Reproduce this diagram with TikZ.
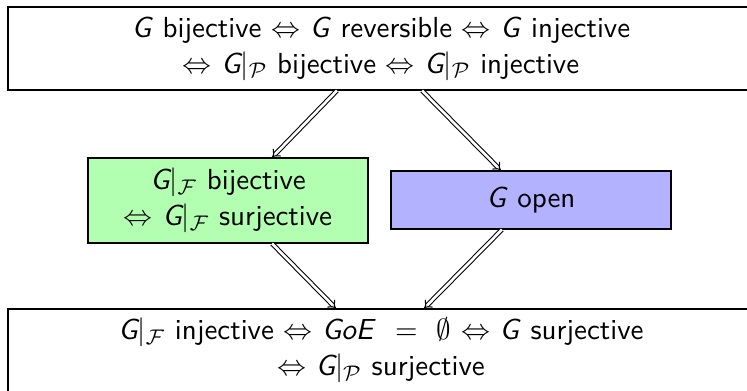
\documentclass[tikz,border=0pt]{standalone}
\usepackage{tikz}
\usetikzlibrary{shadows}
\usetikzlibrary{positioning}
\usetikzlibrary{arrows,shapes}
\usetikzlibrary{calc}
\renewcommand{\familydefault}{\sfdefault}
\newcommand{\Gs}{\textsl{G}}
\tikzstyle{box}=[rectangle,draw,align=center,inner sep=0pt,font=\fontsize{10.95}{13.6}\selectfont,drop shadow={shadow xshift=0.5pt,shadow yshift=-0.5pt,fill=black!45}]
\tikzstyle{imp}=[draw,double,double distance=1pt,-implies]

\begin{document}
\begin{tikzpicture}[x=0.378pt,y=-0.378pt]

  \def\u{0.378};
  \useasboundingbox (0,0) rectangle (747,391);
  \clip (0,0) rectangle (747,391);

  \node[box,fill=white,minimum width={746*\u pt},minimum height={83*\u pt}] (top) at (381,48.5)
    {\Gs{} bijective $\Leftrightarrow$ \Gs{} reversible $\Leftrightarrow$ \Gs{} injective\\
     $\Leftrightarrow$ $\Gs|_{\mathcal{P}}$ bijective $\Leftrightarrow$ $\Gs|_{\mathcal{P}}$ injective};

  \node[box,fill=green!30,minimum width={280*\u pt},minimum height={85*\u pt}] (green) at (228,200.5)
    {$\Gs|_{\mathcal{F}}$ bijective\\ $\Leftrightarrow$ $\Gs|_{\mathcal{F}}$ surjective};

  \node[box,fill=blue!30,minimum width={280*\u pt},minimum height={58*\u pt}] (blue) at (531,200)
    {\Gs{} open};

  \node[box,fill=white,minimum width={746*\u pt},minimum height={83*\u pt}] (bottom) at (381,350.5)
    {$\Gs|_{\mathcal{F}}$ injective $\Leftrightarrow$ \textsl{GoE}~~$=$~~$\emptyset$ $\Leftrightarrow$ \Gs{} surjective\\
     $\Leftrightarrow$ $\Gs|_{\mathcal{P}}$ surjective};

  \foreach \source/\sx/\dest/\dx in {top/-44/green/44, top/41/blue/-30}
         \draw[imp] ($(\source.south)+(\sx,0)$) -- ($(\dest.north)+(\dx,0)$);

  \foreach \source/\sx/\dest/\dx in {green/44/bottom/-45, blue/-29/bottom/43}
         \draw[imp] ($(\source.south)+(\sx,0)$) -- ($(\dest.north)+(\dx,0)$);

\end{tikzpicture}
\end{document}
